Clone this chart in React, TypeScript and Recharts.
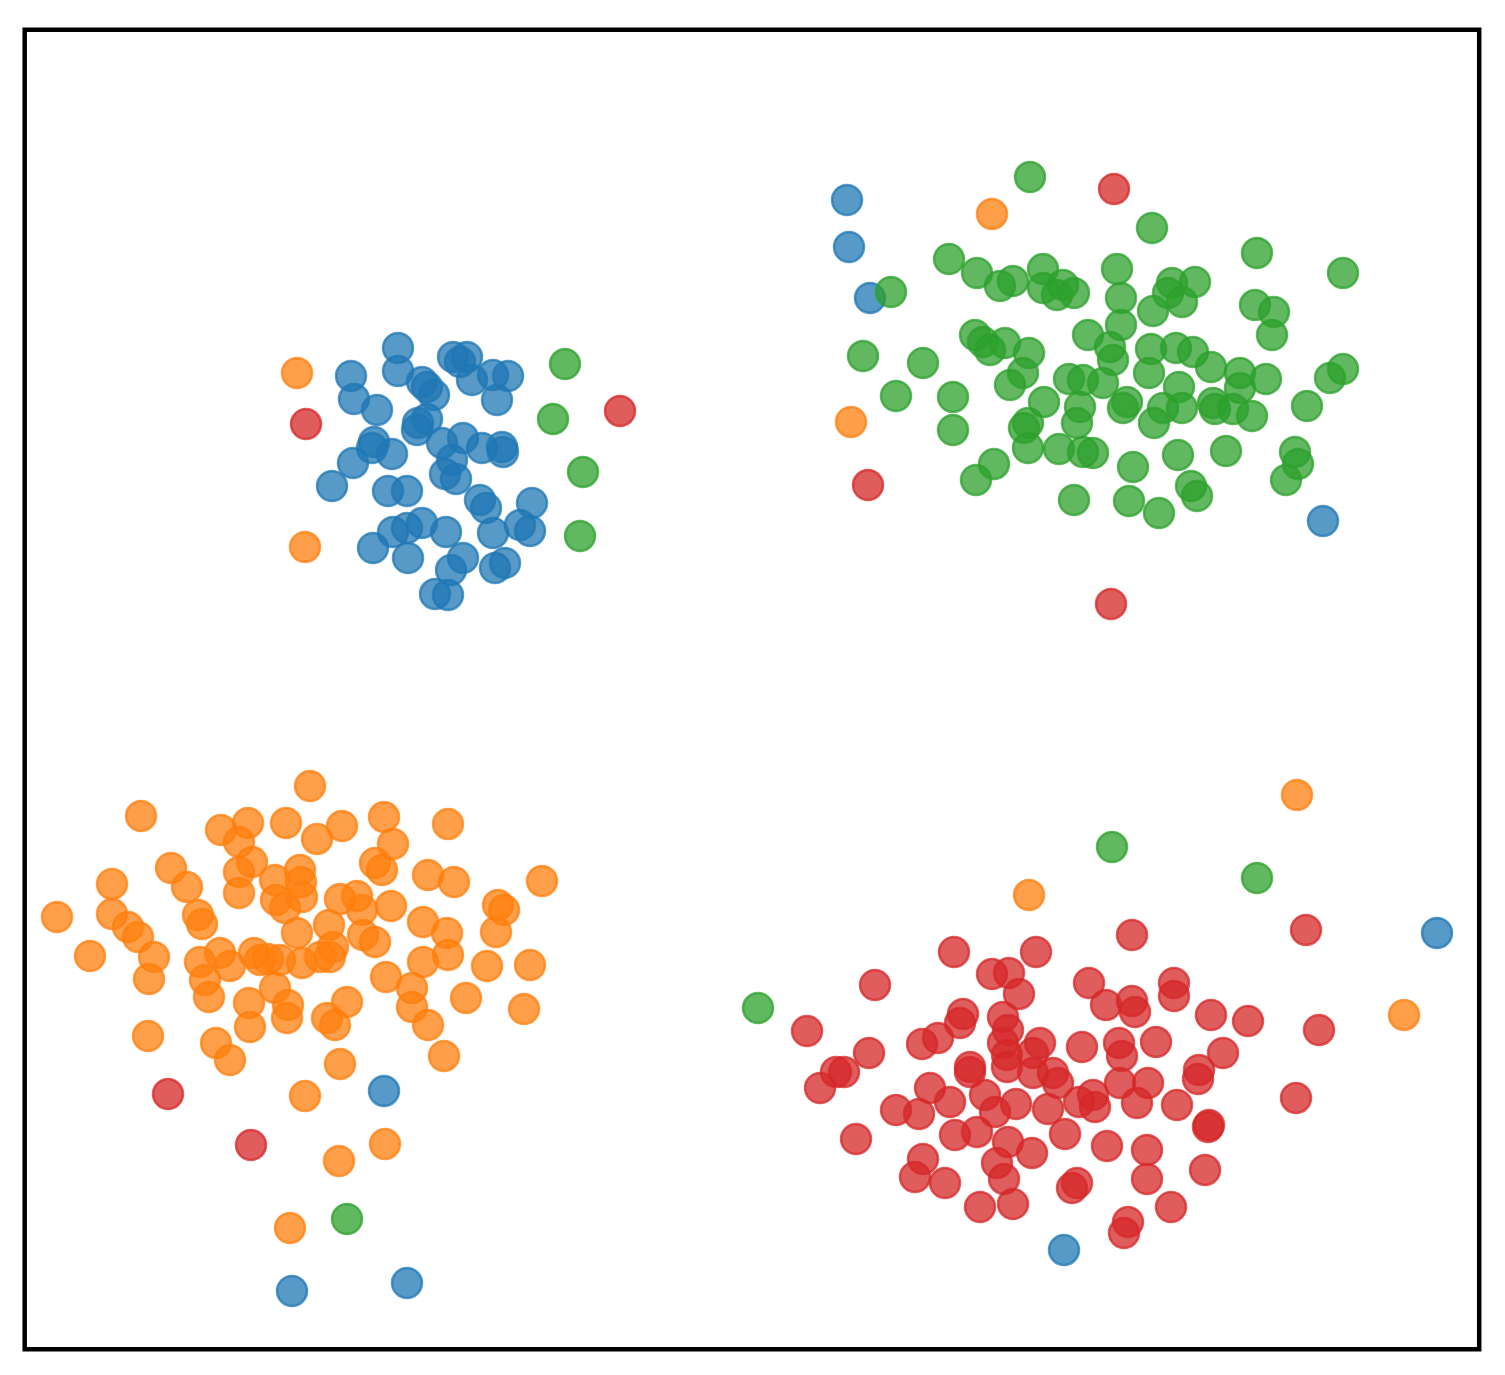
import { ScatterChart, Scatter, XAxis, YAxis, ReferenceArea } from 'recharts'

// cluster labels and colours (matplotlib tab10)
const labels = ['0', '1', '2', '3']
const colors = ['#1f77b4', '#ff7f0e', '#2ca02c', '#d62728']

// points per predicted label, [x, y] (y grows downward)
const label0: [number, number][] = [
  [39.8, 34.8], [39.8, 37.1], [35.1, 37.6], [35.4, 39.9], [37.7, 41.0], [42.2, 38.2], [42.7, 38.7],
  [43.4, 39.5], [45.3, 35.7], [46.7, 35.7], [46.0, 36.2], [47.2, 38.0], [49.3, 37.5], [50.8, 37.6],
  [49.7, 40.0], [41.8, 42.3], [42.7, 41.9], [41.7, 43.0], [37.4, 44.2], [37.2, 44.8], [39.2, 45.4],
  [35.3, 46.3], [33.2, 48.6], [44.2, 44.3], [46.3, 43.8], [48.2, 44.8], [50.2, 44.7], [50.3, 45.2],
  [45.2, 46.0], [44.5, 47.4], [45.6, 47.9], [38.8, 49.1], [40.7, 49.1], [48.0, 50.0], [48.6, 50.8],
  [53.2, 50.3], [52.0, 52.5], [53.0, 53.1], [49.3, 53.3], [44.6, 53.2], [42.2, 52.3], [40.7, 52.8],
  [39.3, 53.2], [37.3, 54.8], [40.8, 55.8], [46.3, 55.8], [45.1, 57.0], [49.5, 56.8], [50.5, 56.3],
  [43.5, 59.4], [44.8, 59.5],
  [84.7, 20.0], [84.9, 24.7], [87.0, 29.8], [132.3, 52.1], [143.7, 93.3], [106.4, 125.0],
  [38.4, 109.1], [29.2, 129.1], [40.7, 128.3],
]

const label1: [number, number][] = [
  [29.7, 37.3], [30.5, 54.7], [99.2, 21.4], [85.1, 42.2], [129.7, 79.5], [140.4, 101.5], [102.9, 89.5],
  [14.1, 81.6], [22.1, 83.0], [24.8, 82.3], [28.6, 82.3], [23.9, 84.2], [25.2, 86.2], [23.9, 87.2],
  [23.9, 89.3], [17.1, 86.8], [18.7, 88.7], [11.2, 88.4], [11.2, 91.4], [5.7, 91.7], [12.8, 92.7],
  [13.8, 93.7], [15.4, 95.7], [14.9, 97.9], [9.0, 95.6], [19.8, 91.5], [20.2, 92.4], [27.5, 88.0],
  [27.6, 90.0], [28.5, 90.8], [20.0, 96.2], [22.0, 95.3], [23.0, 96.6], [20.5, 98.0], [20.9, 99.7],
  [25.4, 95.3], [26.0, 96.0], [26.8, 95.9], [24.9, 100.3], [25.0, 102.7], [27.5, 98.8],
  [14.8, 103.6], [21.6, 104.3], [23.0, 106.0],
  [31.0, 78.6], [31.7, 83.9], [34.2, 82.6], [38.4, 81.7], [39.3, 84.4], [44.8, 82.4], [37.5, 86.3],
  [38.2, 87.0], [30.0, 87.0], [30.1, 88.2], [30.2, 89.7], [34.0, 89.9], [35.7, 89.6], [36.2, 91.0],
  [39.1, 90.6], [42.8, 87.5], [45.4, 88.2], [54.2, 88.1], [49.8, 90.5], [50.4, 91.0], [49.6, 93.2],
  [42.3, 92.2], [44.7, 93.3], [32.9, 92.5], [29.7, 93.3], [36.3, 93.5], [37.5, 94.2], [33.3, 94.7],
  [32.0, 95.7], [33.0, 95.7], [30.2, 96.3], [28.0, 96.0], [42.3, 96.2], [44.8, 95.5], [48.7, 96.6],
  [53.0, 96.5], [38.6, 97.7], [41.2, 98.8], [41.2, 100.7], [42.8, 102.5], [46.6, 99.8], [52.4, 100.9],
  [34.7, 100.2], [32.7, 101.8], [33.5, 102.5], [28.8, 100.5], [28.7, 101.8], [44.4, 105.6], [34.0, 106.4],
  [30.5, 109.6], [33.9, 116.1], [38.5, 114.4], [29.0, 122.8],
]

const label2: [number, number][] = [
  [56.5, 36.4], [55.3, 41.9], [58.3, 47.2], [58.0, 53.6], [75.8, 100.8], [111.2, 84.7], [125.7, 87.8],
  [34.7, 121.9],
  [103.0, 17.7], [89.1, 29.2], [86.3, 35.6], [92.3, 36.3], [89.6, 39.6], [95.3, 39.7], [95.3, 43.0],
  [94.9, 25.9], [97.7, 27.3], [100.0, 28.6], [101.3, 28.1], [104.3, 26.9], [104.3, 28.8], [105.7, 29.5],
  [106.3, 28.5], [107.4, 29.3], [97.5, 33.5], [98.3, 34.2], [99.0, 35.0], [100.5, 34.3], [102.9, 35.3],
  [102.3, 37.3], [101.0, 38.5], [104.4, 40.2], [102.8, 42.3], [102.4, 42.8], [102.8, 44.8], [105.9, 44.9],
  [108.3, 45.2], [109.3, 45.3], [106.9, 37.9], [108.3, 38.0], [108.0, 40.7], [107.7, 42.3], [108.8, 33.5],
  [99.4, 46.4], [97.6, 48.0], [107.4, 50.0],
  [115.2, 22.8], [111.7, 26.9], [112.1, 29.8], [112.1, 32.5], [117.2, 28.3], [119.5, 28.2], [116.8, 29.3],
  [118.2, 30.2], [115.3, 31.1], [125.7, 25.3], [134.3, 27.3], [125.5, 30.5], [127.4, 31.2], [127.2, 33.5],
  [111.0, 34.7], [111.3, 36.0], [110.3, 38.3], [115.1, 34.9], [117.6, 34.8], [119.3, 35.2], [114.9, 37.3],
  [121.1, 36.7], [124.0, 37.3], [126.6, 37.9], [117.9, 38.7], [124.0, 38.8], [112.7, 40.2], [112.3, 40.8],
  [116.3, 40.8], [118.2, 40.8], [115.4, 42.3], [121.3, 40.3], [121.5, 40.9], [123.3, 40.9], [125.2, 41.6],
  [130.7, 40.6], [133.0, 37.8], [134.3, 36.9], [113.3, 46.7], [117.8, 45.5], [122.6, 45.1], [129.5, 45.2],
  [129.8, 46.4], [128.6, 48.0], [119.1, 48.6], [119.7, 49.6], [112.9, 50.1], [115.9, 51.3],
]

const label3: [number, number][] = [
  [30.6, 42.4], [62.0, 41.1], [86.8, 48.5], [111.4, 18.9], [111.1, 60.4], [16.8, 109.4], [25.1, 114.5],
  [130.6, 93.0], [131.9, 103.0], [129.6, 109.8],
  [95.4, 95.2], [99.2, 97.4], [100.9, 97.3], [87.5, 98.5], [80.7, 103.1], [86.9, 105.3], [83.6, 107.2],
  [84.4, 107.2], [82.0, 108.8], [85.6, 113.9], [96.3, 101.4], [96.0, 102.3], [93.8, 103.8], [92.2, 104.4],
  [100.3, 101.7], [100.8, 103.0], [100.3, 104.3], [100.7, 105.5], [100.7, 106.7], [97.0, 106.7],
  [97.0, 107.2], [93.0, 108.8], [95.0, 110.2], [98.5, 109.5], [99.5, 111.2], [89.6, 111.0], [91.9, 111.4],
  [95.5, 113.5], [97.7, 113.2], [100.8, 114.2], [99.7, 116.3], [92.3, 115.9], [91.5, 117.7], [94.5, 118.3],
  [100.4, 117.9], [98.0, 120.7], [101.3, 120.4],
  [113.2, 93.5], [103.6, 95.2], [101.9, 99.4], [108.9, 98.3], [110.6, 100.5], [113.2, 100.1], [113.5, 101.2],
  [117.4, 98.3], [117.4, 99.6], [121.1, 101.5], [124.8, 102.1], [104.0, 104.3], [103.3, 105.3],
  [103.3, 107.3], [105.3, 107.3], [105.8, 108.3], [108.2, 104.7], [111.9, 104.3], [112.2, 105.6],
  [115.6, 104.2], [122.3, 105.3], [119.9, 107.0], [119.8, 107.9], [112.0, 108.3], [114.8, 108.3],
  [113.7, 110.3], [117.7, 110.5], [109.3, 109.5], [109.5, 110.7], [107.9, 110.2], [101.6, 110.4],
  [104.8, 110.9], [106.5, 113.4], [120.9, 112.5], [120.8, 112.7], [110.7, 114.6], [114.7, 115.0],
  [120.5, 117.0], [114.7, 117.9], [103.2, 115.3], [107.7, 118.3], [107.2, 118.8], [117.1, 120.7],
  [112.8, 122.2], [112.4, 123.3],
]

const groups = [label0, label1, label2, label3]

const xDomain: [number, number] = [2.47, 147.92]
const yDomain: [number, number] = [2.97, 134.92]

function Dot(color: string) {
  return (props: any) => (
    <circle
      cx={props.cx}
      cy={props.cy}
      r={15}
      fill={color}
      fillOpacity={0.75}
      stroke={color}
      strokeOpacity={0.75}
      strokeWidth={2.5}
    />
  )
}

export default function App() {
  return (
    <div style={{ position: 'absolute', left: 0, top: 0, background: '#fff' }}>
      <ScatterChart width={1505} height={1375} margin={{ top: 29.7, right: 25.8, bottom: 25.8, left: 24.7 }}>
        <XAxis type="number" dataKey="x" domain={xDomain} hide allowDataOverflow />
        <YAxis type="number" dataKey="y" domain={yDomain} reversed hide allowDataOverflow />
        {groups.map((pts, i) => (
          <Scatter
            key={labels[i]}
            name={labels[i]}
            data={pts.map(([x, y]) => ({ x, y }))}
            shape={Dot(colors[i])}
            isAnimationActive={false}
          />
        ))}
        <ReferenceArea
          x1={xDomain[0]}
          x2={xDomain[1]}
          y1={yDomain[0]}
          y2={yDomain[1]}
          fill="none"
          stroke="#000"
          strokeWidth={4.5}
          fillOpacity={0}
        />
      </ScatterChart>
    </div>
  )
}
